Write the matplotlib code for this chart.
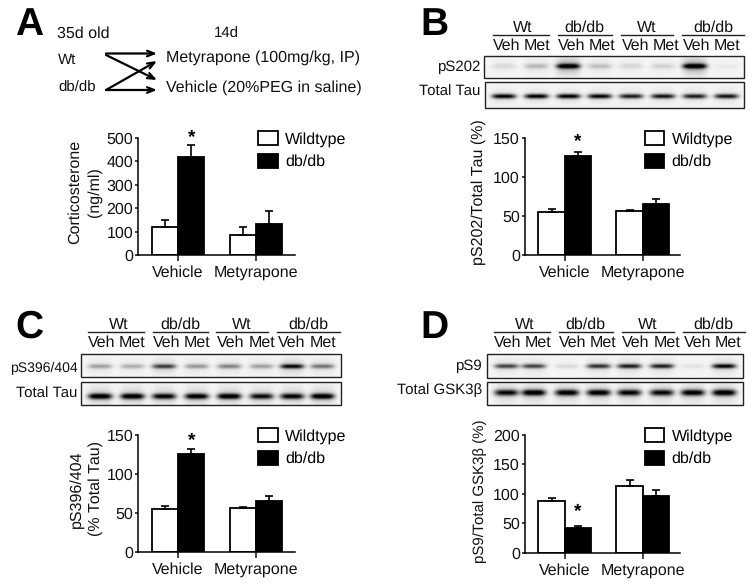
import numpy as np
import matplotlib
matplotlib.use("Agg")
import matplotlib.pyplot as plt
from matplotlib.patches import Rectangle

plt.rcParams['font.family'] = ['Liberation Sans', 'DejaVu Sans']
plt.rcParams['text.hinting'] = 'no_hinting'
plt.rcParams['text.hinting_factor'] = 1
W, H = 754, 585

# ---- data ----
groups = ['Vehicle', 'Metyrapone']
series = ['Wildtype', 'db/db']
a_wt, a_wt_err = [118, 85], [30, 36]
a_db, a_db_err = [420, 131], [50, 59]
b_wt, b_wt_err = [54.5, 56], [4.5, 2]
b_db, b_db_err = [126, 65.6], [6, 6]
c_wt, c_wt_err = [54.5, 56], [4.5, 2]
c_db, c_db_err = [126, 65.6], [6, 6]
d_wt, d_wt_err = [88.6, 114], [4, 9]
d_db, d_db_err = [42.6, 97], [3.5, 8.7]
a_ticks = [0, 100, 200, 300, 400, 500]
b_ticks = [0, 50, 100, 150]
c_ticks = [0, 50, 100, 150]
d_ticks = [0, 50, 100, 150, 200]
lane_groups = ['Wt', 'db/db', 'Wt', 'db/db']
lane_labels = ['Veh', 'Met']
b_ps202 = [.09, .2, .92, .17, .1, .11, .98, .04]
b_tau = [.95, .95, .95, .92, .82, .85, .82, .85]
c_ps396 = [.3, .25, .65, .33, .4, .3, .85, .45]
c_tau = [1, 1, .9, .95, 1, .85, .9, 1]
d_ps9 = [.65, .65, .1, .72, .8, .78, .07, .9]
d_gsk = [.88, 1, .95, .95, .9, .88, .95, 1]

fig = plt.figure(figsize=(W / 100, H / 100), dpi=100, facecolor='white')
ov = fig.add_axes([0, 0, 1, 1], zorder=0)
ov.set_xlim(0, W); ov.set_ylim(H, 0); ov.axis('off')

FS = 11.2
SMALL = 10.6


def txt(x, y, s, ha='left', fs=FS, **kw):
    ov.text(x, y, s, ha=ha, va='center', fontsize=fs, color='#111111', **kw)


def bars(x0, x1, y0, y1, wt, wt_err, db, db_err, ticks, ymax, star, star_y):
    ax = fig.add_axes([x0 / W, 1 - y0 / H, (x1 - x0) / W, (y0 - y1) / H], zorder=2)
    ax.patch.set_alpha(0)
    px = 78.0
    xs = np.array([0.0, 1.0])
    bw = 26.3 / px
    ax.set_xlim(-40 / px, (x1 - x0 - 40) / px)
    ax.set_ylim(0, ymax)
    kw = dict(capsize=3.2, elinewidth=1.2, capthick=1.2, ecolor='black')
    h1 = ax.bar(xs - bw / 2, wt, bw, yerr=[np.zeros(2), wt_err], color='white',
                edgecolor='black', linewidth=1.3, error_kw=kw, label=series[0])
    h2 = ax.bar(xs + bw / 2, db, bw, yerr=[np.zeros(2), db_err], color='black',
                edgecolor='black', linewidth=1.3, error_kw=kw, label=series[1])
    for s in ('top', 'right'):
        ax.spines[s].set_visible(False)
    for s in ('left', 'bottom'):
        ax.spines[s].set_linewidth(1.1)
    ax.set_yticks(ticks)
    ax.set_xticks(xs, groups)
    ax.tick_params(axis='y', length=2.5, width=1.1, pad=1.0, labelsize=FS + 0.3, colors='#111111')
    ax.tick_params(axis='x', length=4, width=1.1, pad=3.5, labelsize=FS, colors='#111111')
    ax.text(xs[star[0]] + bw / 2, star_y, '*', ha='center', va='center', fontsize=14,
            fontweight='bold', clip_on=False)
    ax.legend(handles=[h1, h2], loc='upper left', frameon=False, fontsize=FS + 0.2,
              bbox_to_anchor=((x0 + 120) / W, 1 - (y1 - 7) / H), bbox_transform=fig.transFigure,
              borderpad=0, borderaxespad=0, handlelength=1.25, handleheight=1.0,
              handletextpad=0.45, labelspacing=0.44)
    return ax


def blot(x0, x1, y0, y1, values, lanes, yc, sigma, smear=0.0):
    w, h = int(round(x1 - x0)), int(round(y1 - y0))
    X, Y = np.meshgrid(np.linspace(x0, x1, w * 2), np.linspace(y0, y1, h * 2))
    D = np.full(X.shape, 0.04)
    for v, lx in zip(values, lanes):
        shape = np.exp(-((X - lx) / 12.0) ** 4)
        D += v * shape * np.exp(-((Y - yc) / sigma) ** 2)
        D += smear * v * shape * np.exp(-((Y - yc) / (sigma * 3.5)) ** 2)
    ov.imshow(1 - np.clip(D, 0, 1), extent=(x0, x1, y1, y0), cmap='gray', vmin=0, vmax=1,
              aspect='auto', interpolation='bilinear', zorder=1)
    ov.add_patch(Rectangle((x0, y0), x1 - x0, y1 - y0, fill=False, ec='#222222', lw=1.0, zorder=2))


def header(zx0, y0, line_spans, group_x, lane_x):
    o = zx0
    for (a, b), gx, name in zip(line_spans, group_x, lane_groups):
        ov.plot([o + a / 3, o + b / 3], [y0 + 104 / 3] * 2, color='#222222', lw=1.0)
        txt(o + gx / 3, y0 + 82 / 3, name, ha='center', fs=SMALL + 0.6)
    for i, lx in enumerate(lane_x):
        txt(o + lx / 3, y0 + 136 / 3, lane_labels[i % 2], ha='center', fs=SMALL + 0.6)


# ---- panel letters ----
for s, x, y in [('A', 15, 35), ('B', 420, 35), ('C', 15.5, 338), ('D', 420, 338)]:
    ov.text(x, y, s, fontsize=28, fontweight='bold', color='black', ha='left', va='baseline')

# ---- panel A diagram ----
txt(57, 34, '35d old', fs=11.4)
txt(226, 34, '14d', ha='center', fs=SMALL)
txt(58, 59.5, 'Wt', fs=SMALL)
txt(58, 88, 'db/db', fs=SMALL)
txt(166, 57.5, 'Metyrapone (100mg/kg, IP)', fs=11.5)
txt(166, 88, 'Vehicle (20%PEG in saline)', fs=11.5)
for (xa, ya, xb, yb) in [(106, 53.5, 157, 53.5), (106, 55, 157, 80), (106, 90, 157, 61), (106, 90, 157, 90)]:
    ov.annotate('', xy=(xb, yb), xytext=(xa, ya),
                arrowprops=dict(arrowstyle='->,head_length=0.5,head_width=0.2', lw=1.6,
                                color='black', shrinkA=0, shrinkB=0))

# ---- charts ----
bars(138, 295, 255, 138, a_wt, a_wt_err, a_db, a_db_err, a_ticks, 500, (0,), 500)
txt(75, 192, 'Corticosterone', ha='center', rotation=90)
txt(95, 192, '(ng/ml)', ha='center', rotation=90)

bars(524.7, 680, 255, 137.7, b_wt, b_wt_err, b_db, b_db_err, b_ticks, 150, (0,), 144)
txt(479, 192, 'pS202/Total Tau (%)', ha='center', rotation=90)

bars(138, 295, 552, 435, c_wt, c_wt_err, c_db, c_db_err, c_ticks, 150, (0,), 142)
txt(77, 489, 'pS396/404', ha='center', rotation=90)
txt(96, 489, '(% Total Tau)', ha='center', rotation=90)

bars(524.7, 680, 552.7, 435, d_wt, d_wt_err, d_db, d_db_err, d_ticks, 200, (0,), 69)
txt(480, 491.5, 'pS9/Total GSK3β (%)', ha='center', rotation=90, fs=11.0)

# ---- blots ----
zb = lambda z, o: o + z / 3
lanes_b = [zb(z, 377) for z in (380, 478, 574, 668, 762, 858, 953, 1048)]
lanes_c = [z / 3 for z in (300, 397, 492, 590, 688, 785, 877, 968)]
lanes_d = [zb(z, 377) for z in (388, 470, 570, 665, 757, 855, 948, 1042)]

header(377, 0, [(348, 516), (543, 706), (733, 889), (914, 1102)], [437, 623, 810, 1008],
       [390, 480, 585, 675, 775, 868, 960, 1050])
blot(484.3, 743.7, 56, 77.7, b_ps202, lanes_b, 66, 2.4, 0.28)
blot(485, 743.7, 81.7, 107.7, b_tau, lanes_b, 96, 2.3, 0.08)
txt(480, 67, 'pS202', ha='right', fs=SMALL)
txt(480, 92, 'Total Tau', ha='right', fs=SMALL)

header(0, 295 + 8 / 3, [(265, 432), (460, 623), (649, 805), (831, 1019)], [355, 540, 726, 925],
       [305, 395, 500, 590, 693, 785, 875, 968])
blot(81, 341, 295 + 178 / 3, 295 + 247 / 3, c_ps396, lanes_c, 366.7, 2.2, 0.18)
blot(81, 341, 295 + 262 / 3, 295 + 330 / 3, c_tau, lanes_c, 396.5, 2.8, 0.14)
txt(77.5, 368, 'pS396/404', ha='right', fs=10.2)
txt(77.5, 394, 'Total Tau', ha='right', fs=SMALL)

header(377, 295 + 8 / 3, [(351, 519), (546, 709), (736, 891), (917, 1105)], [442, 626, 812, 1010],
       [392, 483, 588, 678, 777, 870, 962, 1052])
blot(487, 743, 295 + 177 / 3, 295 + 248 / 3, d_ps9, lanes_d, 366, 2.2, 0.12)
blot(487, 743, 295 + 260 / 3, 295 + 330 / 3, d_gsk, lanes_d, 393, 3.0, 0.12)
txt(482, 366.5, 'pS9', ha='right', fs=SMALL)
txt(482, 390.5, 'Total GSK3β', ha='right', fs=SMALL)

ov.set_xlim(0, W); ov.set_ylim(H, 0)
fig.savefig('out.png', dpi=100, facecolor='white')
